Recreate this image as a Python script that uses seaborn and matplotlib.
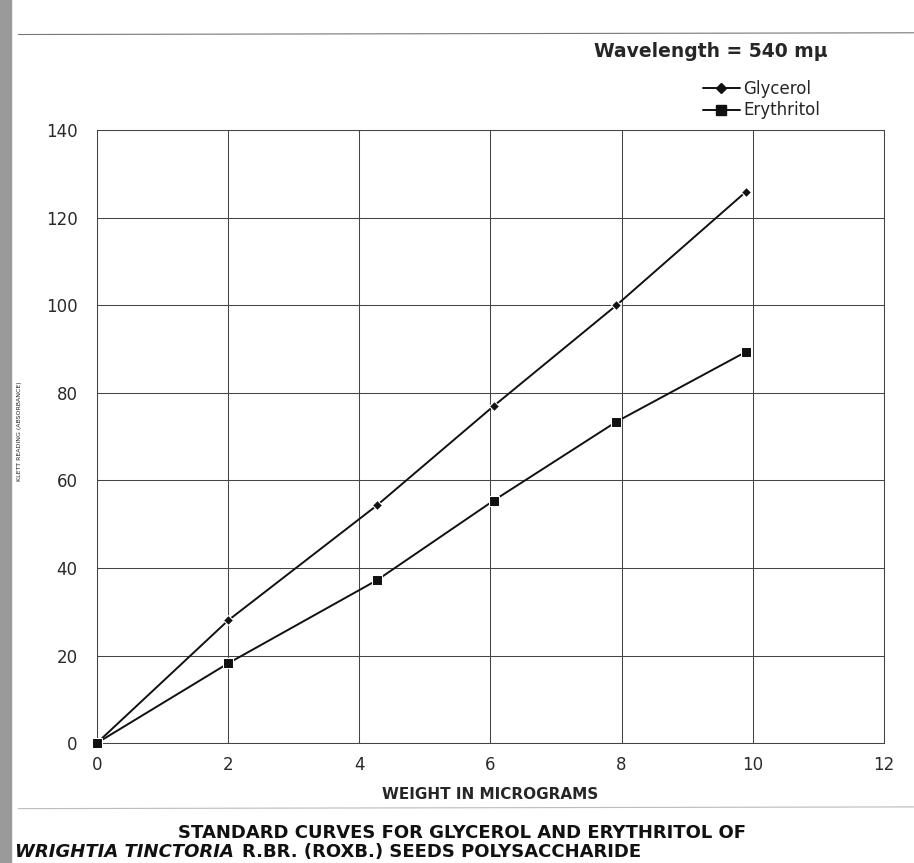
import pandas as pd
import seaborn as sns
import matplotlib.pyplot as plt
from matplotlib.lines import Line2D
from matplotlib.patches import Rectangle

# values
weight = [0, 2, 4.27, 6.05, 7.92, 9.9]
glycerol = [0, 28, 54.3, 77, 100, 126]
erythritol = [0, 18.2, 37.2, 55.4, 73.4, 89.4]
x_ticks = [0, 2, 4, 6, 8, 10, 12]
y_ticks = [0, 20, 40, 60, 80, 100, 120, 140]

df = pd.DataFrame({
    'weight': weight * 2,
    'reading': glycerol + erythritol,
    'series': ['Glycerol'] * len(weight) + ['Erythritol'] * len(weight),
})

sns.set_style("white")
plt.rcParams['font.family'] = ['DejaVu Sans']

fig = plt.figure(figsize=(9.14, 8.63), dpi=100)
ax = fig.add_axes([0.106, 0.139, 0.861, 0.710])

sns.lineplot(data=df, x='weight', y='reading', hue='series', style='series',
             markers={'Glycerol': 'D', 'Erythritol': 's'}, dashes=False,
             palette={'Glycerol': '#111111', 'Erythritol': '#111111'},
             markersize=7, linewidth=1.4, ax=ax, legend=False)
for ln, ms in zip(ax.lines, [5, 7.5]):
    ln.set_markersize(ms)
    ln.set_clip_on(False)
    ln.set_zorder(5)

ax.set_xlim(0, 12)
ax.set_ylim(0, 140)
ax.set_xticks(x_ticks)
ax.set_yticks(y_ticks)
ax.grid(True, color='#444444', linewidth=0.75)
for s in ax.spines.values():
    s.set_color('#444444')
    s.set_linewidth(0.75)
ax.tick_params(axis='both', length=0, labelsize=12, labelcolor='#2a2a2a')
ax.tick_params(axis='x', pad=9)
ax.tick_params(axis='y', pad=14)
ax.set_xlabel('WEIGHT IN MICROGRAMS', fontsize=11, fontweight='bold', labelpad=10)
ax.set_ylabel('')

# tiny rotated axis label at far left, as in the scan
fig.text(0.021, 0.50, 'KLETT READING (ABSORBANCE)', rotation=90, fontsize=4.5,
         ha='center', va='center', color='#222222')

fig.text(0.906, 0.940, 'Wavelength = 540 m\u03bc', fontsize=13.5, fontweight='bold',
         ha='right', va='center')

handles = [Line2D([0], [0], color='#111111', lw=1.4, marker='D', markersize=5),
           Line2D([0], [0], color='#111111', lw=1.4, marker='s', markersize=7)]
fig.legend(handles, ['Glycerol', 'Erythritol'], loc='upper left',
           bbox_to_anchor=(0.762, 0.915), frameon=False, fontsize=12,
           handlelength=2.2, handletextpad=0.2, labelspacing=0.2,
           borderaxespad=0)

# caption under the chart
fig.text(0.506, 0.035, 'STANDARD CURVES FOR GLYCEROL AND ERYTHRITOL OF',
         fontsize=13, ha='center', va='center', fontweight='bold', color='#111111')
t_it = fig.text(0.016, 0.013, 'WRIGHTIA TINCTORIA', fontsize=13, ha='left',
                va='center', fontweight='bold', fontstyle='italic', color='#111111')
ax.annotate('R.BR. (ROXB.) SEEDS POLYSACCHARIDE', xy=(1, 0.5), xycoords=t_it,
            xytext=(6, 0), textcoords='offset points', fontsize=13, ha='left',
            va='center', fontweight='bold', color='#111111', annotation_clip=False)

# scan artefacts: page lines and grey binding strip
fig.add_artist(Line2D([0.02, 1.0], [0.960, 0.962], color='#777777', lw=0.8))
fig.add_artist(Line2D([0.02, 1.0], [0.063, 0.065], color='#bbbbbb', lw=0.8))
fig.add_artist(Rectangle((0, 0), 0.012, 1, color='#9a9a9a', zorder=5))

fig.savefig('out.png', dpi=100)
